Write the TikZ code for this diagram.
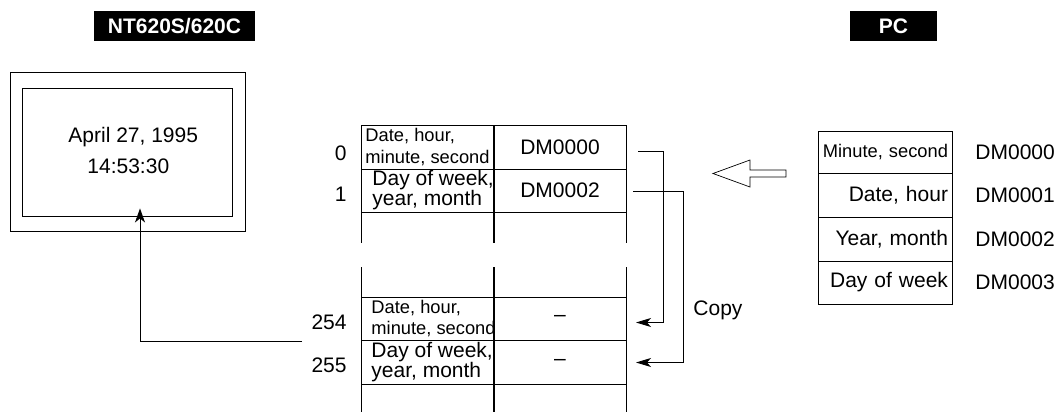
\documentclass[tikz,border=0pt]{standalone}
\usepackage{fontspec}
\setmainfont{Liberation Sans}
\usepackage{tikz}
\usetikzlibrary{positioning}
\usetikzlibrary{arrows.meta}
\newcommand{\txtbig}{\fontsize{21}{20}\selectfont}
\newcommand{\txtsmall}{\fontsize{18.3}{21.5}\selectfont}
\tikzset{
title_box/.style={rectangle, fill=black, text=white, font=\bfseries\txtbig, minimum height=30pt, inner sep=0pt},
screen_frame/.style={rectangle, draw, inner sep=0pt},
mem_cell/.style={rectangle, draw, inner sep=0pt, outer sep=0pt, font=\txtbig},
cell_text/.style={rectangle, inner sep=0pt, align=left},
pc_cell/.style={rectangle, draw, text width=126pt, inner xsep=4pt, inner ysep=0pt, outer sep=0pt, align=right, font=\txtbig},
num_text/.style={inner sep=0pt, font=\txtbig},
mid_line/.style={line width=1.6pt},
copy_arrow/.style={-{Stealth[length=15pt, width=9pt, inset=4pt]}},
up_arrow/.style={-{Stealth[length=14pt, width=10pt, inset=4pt]}}
}
\begin{document}
\begin{tikzpicture}[x=1pt, y=-1pt, line width=0.9pt]
    \useasboundingbox (0,0) rectangle (1059,412);
    \node[title_box, minimum width=161pt] (nt_title) at (174.5,26) {NT620S/620C};
    \node[title_box, minimum width=87pt] (pc_title) at (893.5,26) {PC};

    \node[screen_frame, minimum width=235pt, minimum height=159pt] (scr_out) at (127.5,151.5) {};
    \node[screen_frame, minimum width=210pt, minimum height=128pt] (scr_in) at (127,152) {};
    \node[num_text, anchor=base west] (date_text) at (68,142) {April 27, 1995};
    \node[num_text, anchor=base west] (time_text) at (87,173) {14:53:30};

    \node[mem_cell, minimum width=133pt, minimum height=44pt] (c0a) at (427.5,147) {};
    \node[mem_cell, minimum width=132pt, minimum height=44pt] (c0b) [right=0 of c0a] {DM0000};
    \node[mem_cell, minimum width=133pt, minimum height=43pt] (c1a) [below=0 of c0a] {};
    \node[mem_cell, minimum width=132pt, minimum height=43pt] (c1b) [right=0 of c1a] {DM0002};
    \node[mem_cell, minimum width=133pt, minimum height=43pt] (c254a) at (427.5,318.5) {};
    \node[mem_cell, minimum width=132pt, minimum height=43pt] (c254b) [right=0 of c254a] {--};
    \node[mem_cell, minimum width=133pt, minimum height=44pt] (c255a) [below=0 of c254a] {};
    \node[mem_cell, minimum width=132pt, minimum height=44pt] (c255b) [right=0 of c255a] {--};

    \foreach \a in {c1a.south west, c1b.south east}
        \draw (\a) -- ++(0,31);
    \foreach \a in {c254a.north west, c254b.north east}
        \draw (\a) -- ++(0,-30);
    \foreach \a in {c255a.south west, c255b.south east}
        \draw (\a) -- ++(0,28);
    \draw[mid_line] (c0a.north east) -- ([yshift=-31pt]c1a.south east);
    \draw[mid_line] ([yshift=30pt]c254a.north east) -- ([yshift=-28pt]c255a.south east);

    \node[cell_text, font=\txtsmall] (t0) [right=4pt of c0a.west] {Date, hour,\\minute, second};
    \node[cell_text, font=\txtbig] (t1) [right=11pt of c1a.west] {Day of week,\\year, month};
    \begin{scope}
        \clip (c254a.north west) rectangle (c254a.south east);
        \node[cell_text, font=\txtsmall] (t254) [right=10pt of c254a.west] {Date, hour,\\minute, second};
    \end{scope}
    \node[cell_text, font=\txtbig] (t255) [right=10pt of c255a.west] {Day of week,\\year, month};

    \node[num_text, anchor=east] (n0) at (347,153) {0};
    \node[num_text, anchor=east] (n1) at (347,194) {1};
    \node[num_text, anchor=east] (n254) at (347,322) {254};
    \node[num_text, anchor=east] (n255) at (347,365) {255};

    \draw[copy_arrow] ([xshift=12pt,yshift=-4pt]c0b.east) -- ++(25,0) |- ([xshift=10pt,yshift=-4pt]c254b.east);
    \draw[copy_arrow] ([xshift=7pt,yshift=-0.5pt]c1b.east) -- ++(50,0) |- ([xshift=10pt,yshift=-0.5pt]c255b.east);
    \node[num_text, anchor=base west] (copy_text) at (693,315) {Copy};
    \draw[up_arrow] ([xshift=-59pt,yshift=-1pt]c254a.south west) -| ([xshift=13pt,yshift=8pt]scr_in.south);

    \node[pc_cell, minimum height=42pt, font=\txtsmall] (pc_min) at (885,152) {\mbox{Minute, second}};
    \node[pc_cell, minimum height=44pt] (pc_date) [below=0 of pc_min] {Date, hour};
    \node[pc_cell, minimum height=44pt] (pc_year) [below=0 of pc_date] {Year, month};
    \node[pc_cell, minimum height=43pt] (pc_week) [below=0 of pc_year] {Day of week};
    \node[num_text] (dm_a) [right=23pt of pc_min] {DM0000};
    \node[num_text] (dm_b) [right=23pt of pc_date] {DM0001};
    \node[num_text] (dm_c) [right=23pt of pc_year] {DM0002};
    \node[num_text] (dm_d) [right=23pt of pc_week] {DM0003};

    \draw[line width=0.7pt] (713,173.5) -- (750,160) -- (750,170) -- (786,170) -- (786,177) -- (750,177) -- (750,187) -- cycle;
\end{tikzpicture}
\end{document}
